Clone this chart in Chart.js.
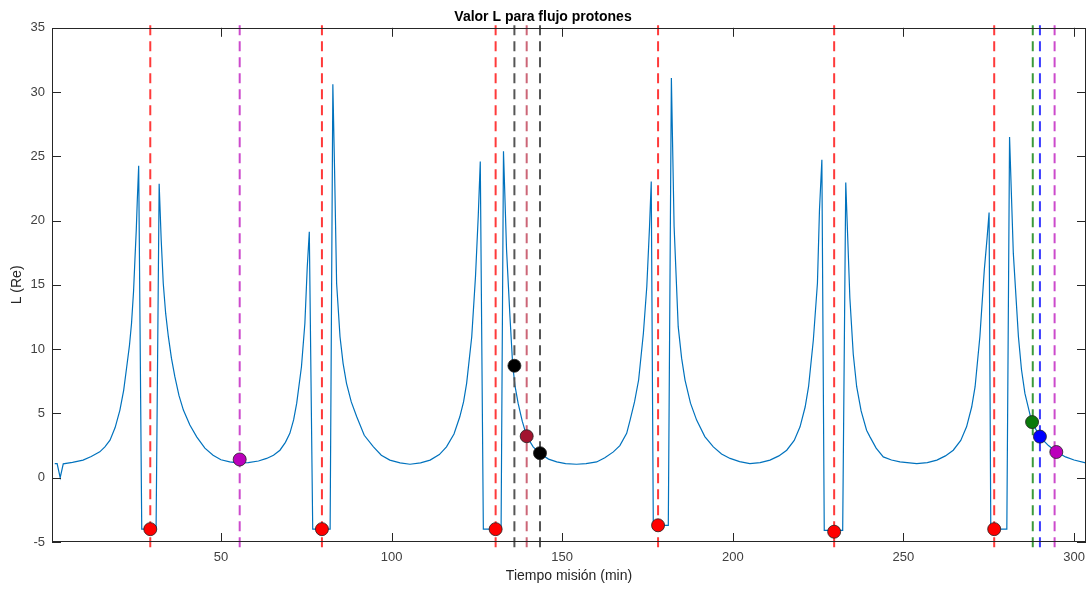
<!DOCTYPE html>
<html>
<head>
<meta charset="utf-8">
<script src="https://cdn.jsdelivr.net/npm/chart.js@4.4.1/dist/chart.umd.min.js"></script>
<style>
  html, body { margin: 0; padding: 0; background: #ffffff; }
  #wrap { width: 1090px; height: 590px; }
</style>
</head>
<body>
<div id="wrap"><canvas id="c" width="1090" height="590"></canvas></div>
<script>
// ---- Data ----
const titleText = 'Valor L para flujo protones';
const xLabel = 'Tiempo misión (min)';
const yLabel = 'L (Re)';
const xTicks = [50, 100, 150, 200, 250, 300];
const yTicks = [-5, 0, 5, 10, 15, 20, 25, 30, 35];

// Blue curve: time (min) and L (Re)
const tiempo = [1.3,2.0,2.9,3.8,6.5,9.6,12,14.5,16,17.5,19,20.4,21.5,22.4,23.2,23.8,24.4,24.8,25.2,25.5,25.9,26.8,31.0,31.9,32.5,33.1,33.8,34.6,35.5,36.5,37.7,39.0,40.9,42.9,45.3,47.7,50,52.6,55,58,61,63.4,65.4,67.3,68.9,70.2,71.3,72.2,73.6,74.6,75.3,75.9,76.9,82.0,82.8,83.3,83.9,84.9,85.8,86.8,88.2,89.8,92,94.7,97,99.5,102.5,105.4,108.5,111.3,114,116.1,118.3,120.0,121.1,122.0,123.5,124.6,125.4,126.0,126.9,132.1,132.8,133.7,134.7,135.5,136.2,137.1,138.3,139.6,141.5,143.5,146,148.4,151,154.2,157,160.1,162.5,165.0,166.9,168.9,169.9,171.2,172.4,173.8,174.8,175.6,176.1,176.7,181.1,182.0,182.8,184.0,185.0,186.0,187.6,189.4,191.8,194.3,196.7,199.2,202,205.0,208,210.9,213.5,215.8,218,219.7,221.2,222.2,223.6,224.8,225.4,226.1,226.8,232.2,233.1,234.3,235.3,236.3,237.6,239.2,240.2,242,244.1,246.5,249.0,253.9,257,259.8,262.3,264.6,266.8,268.5,270,271.0,272.4,273.7,274.5,275.1,275.6,280.3,281.1,282.2,283.7,284.6,285.6,287.6,290.0,292.5,294.9,297.5,300,303.4];
const valorL = [1.1,1.1,0,1.08,1.2,1.37,1.65,2.01,2.4,2.92,3.9,5.26,6.8,8.63,10.3,12.0,14.5,16.95,19.3,21.6,24.27,-4,-4,22.87,18.5,15.13,12.8,10.97,9.3,7.86,6.4,5.26,4.1,3.18,2.3,1.75,1.4,1.23,1.15,1.17,1.3,1.5,1.75,2.14,2.75,3.45,4.5,5.78,8.63,12.0,16.4,19.13,-4,-4,30.6,24,15.13,10.97,8.9,7.34,5.9,4.74,3.3,2.4,1.75,1.37,1.15,1.05,1.15,1.37,1.8,2.4,3.4,4.74,5.9,7.34,10.97,15.65,20.32,24.6,-4,-4,25.4,17.73,12.53,8.77,7.1,5.78,4.4,3.23,2.4,1.89,1.45,1.23,1.1,1.05,1.1,1.23,1.55,2.01,2.5,3.45,4.48,5.9,7.6,11.24,14.87,19.54,23.05,-3.7,-3.7,31.1,19.54,11.75,9.3,7.6,5.8,4.48,3.2,2.4,1.85,1.5,1.25,1.1,1.18,1.37,1.7,2.14,2.9,3.96,5.5,7.08,10.71,15.13,20.84,24.74,-4.1,-4.1,22.97,14.0,9.6,7.08,5.2,3.7,3.18,2.3,1.62,1.38,1.23,1.1,1.18,1.37,1.7,2.14,2.9,3.96,5.5,7.08,10.97,16.17,18.6,20.63,-4,-4,26.5,17.47,10.97,8.4,6.56,4.35,3.18,2.5,2.01,1.62,1.38,1.16];

// Vertical dashed lines (time positions)
const lineasRojas = [29.3, 79.6, 130.5, 178.1, 229.7, 276.6];
const lineasMagenta = [55.5, 294.3];
const lineasNegras = [136.0, 143.5];
const lineasGranate = [139.6];
const lineasVerdes = [287.9];
const lineasAzules = [290.0];

// Markers
const rojoT = [29.3, 79.6, 130.5, 178.1, 229.7, 276.6];
const rojoL = [-4.0, -4.0, -4.0, -3.7, -4.2, -4.0];
const magentaT = [55.5, 294.8];
const magentaL = [1.42, 2.0];
const negroT = [136.0, 143.5];
const negroL = [8.71, 1.91];
const granateT = [139.6];
const granateL = [3.23];
const verdeT = [287.7];
const verdeL = [4.33];
const azulT = [290.0];
const azulL = [3.2];

// ---- Build chart ----
const FONT = 'Liberation Sans, Arial, Helvetica, sans-serif';
const AX = '#262626';
const datasets = [];

function pts(ts, ls) { return ts.map((t, i) => ({ x: t, y: ls[i] })); }

function addMarkers(ts, ls, fill) {
  datasets.push({
    data: pts(ts, ls), showLine: false, pointRadius: 6.5, pointHoverRadius: 6.5,
    pointBackgroundColor: fill, pointBorderColor: '#222', pointBorderWidth: 0.8, order: 0
  });
}
function addVLines(ts, color) {
  ts.forEach(t => {
    datasets.push({
      data: [{ x: t, y: -5.4 }, { x: t, y: 35.3 }], borderColor: color, borderWidth: 2,
      borderDash: [10, 6], pointRadius: 0, fill: false, clip: 12, order: 1
    });
  });
}

addMarkers(rojoT, rojoL, '#ff0000');
addMarkers(magentaT, magentaL, '#bb00bb');
addMarkers(negroT, negroL, '#000000');
addMarkers(granateT, granateL, '#a2142f');
addMarkers(verdeT, verdeL, '#0a7a0a');
addMarkers(azulT, azulL, '#0000ff');

addVLines(lineasRojas, '#ff3a3a');
addVLines(lineasMagenta, '#cc4acc');
addVLines(lineasNegras, '#555555');
addVLines(lineasGranate, '#cc6677');
addVLines(lineasVerdes, '#3a9a3a');
addVLines(lineasAzules, '#3a3aff');

datasets.push({
  data: pts(tiempo, valorL), borderColor: '#0072bd', borderWidth: 1.2, pointRadius: 0,
  fill: false, tension: 0, order: 2
});

const boxPlugin = {
  id: 'boxTicks',
  afterDraw(chart) {
    const { ctx, chartArea: a, scales: { x, y } } = chart;
    ctx.save();
    ctx.strokeStyle = AX;
    ctx.lineWidth = 1;
    ctx.strokeRect(Math.round(a.left) + 0.5, Math.round(a.top) + 0.5,
      Math.round(a.right - a.left) - 1, Math.round(a.bottom - a.top) - 1);
    const L = 9;
    ctx.beginPath();
    xTicks.forEach(v => {
      const px = Math.round(x.getPixelForValue(v)) + 0.5;
      ctx.moveTo(px, a.bottom); ctx.lineTo(px, a.bottom - L);
      ctx.moveTo(px, a.top); ctx.lineTo(px, a.top + L);
    });
    yTicks.forEach(v => {
      const py = Math.round(y.getPixelForValue(v)) + 0.5;
      ctx.moveTo(a.left, py); ctx.lineTo(a.left + L, py);
      ctx.moveTo(a.right, py); ctx.lineTo(a.right - L, py);
    });
    ctx.stroke();
    ctx.restore();
  }
};

function noPad(s) { s.paddingLeft = 0; s.paddingRight = 0; s.paddingTop = 0; s.paddingBottom = 0; }

new Chart(document.getElementById('c'), {
  type: 'line',
  data: { datasets },
  options: {
    responsive: false,
    animation: false,
    events: [],
    layout: { autoPadding: false, padding: { left: 0, right: 4, top: 0, bottom: 0 } },
    plugins: {
      legend: { display: false },
      tooltip: { enabled: false },
      title: {
        display: true, text: titleText, color: '#000',
        font: { family: FONT, size: 14, weight: 'bold', lineHeight: 1.2 },
        padding: { top: 9, bottom: 2 }
      }
    },
    scales: {
      x: {
        type: 'linear', min: 0.5, max: 303.5,
        afterBuildTicks: s => { s.ticks = xTicks.map(v => ({ value: v })); },
        afterFit: s => { s.height = 48; noPad(s); },
        grid: { display: false, drawTicks: false },
        border: { display: false },
        ticks: { color: '#404040', font: { family: FONT, size: 13 }, padding: 8, maxRotation: 0, autoSkip: false },
        title: { display: true, text: xLabel, color: AX, font: { family: FONT, size: 14, lineHeight: 1.2 }, padding: { top: 2, bottom: 5 } }
      },
      y: {
        type: 'linear', min: -5, max: 35,
        afterBuildTicks: s => { s.ticks = yTicks.map(v => ({ value: v })); },
        afterFit: s => { s.width = 52; noPad(s); },
        grid: { display: false, drawTicks: false },
        border: { display: false },
        ticks: { color: '#404040', font: { family: FONT, size: 13 }, padding: 7, autoSkip: false },
        title: { display: true, text: yLabel, color: AX, font: { family: FONT, size: 14, lineHeight: 1.2 }, padding: { top: 9, bottom: 2 } }
      }
    }
  },
  plugins: [boxPlugin]
});
</script>
</body>
</html>
